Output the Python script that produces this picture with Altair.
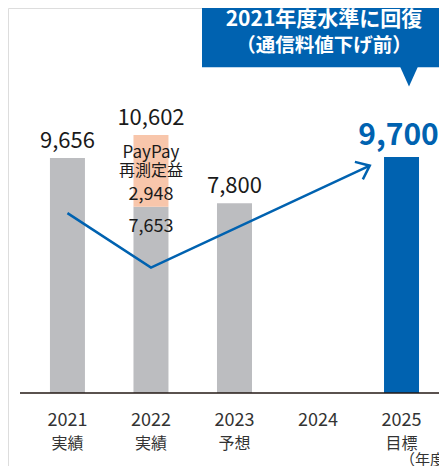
import math
import altair as alt
import pandas as pd

# ---------------- data ----------------
bar_years = [2021, 2022, 2022, 2023, 2025]
bar_start = [0, 0, 7653, 0, 0]
bar_end = [9656, 7653, 10602, 7800, 9700]
bar_kind = ["実績", "実績", "再測定益", "予想", "目標"]

label_years = [2021, 2022, 2023]
label_values = [9656, 10602, 7800]
label_texts = ["9,656", "10,602", "7,800"]

target_year = [2025]
target_value = [9700]
target_text = ["9,700"]

inner_texts = ["PayPay", "再測定益", "2,948", "7,653"]

tick_years = [2021, 2022, 2023, 2024, 2025]
tick_top = ["2021", "2022", "2023", "2024", "2025"]
tick_sub = ["実績", "実績", "予想", "", "目標"]

trend_x = [2021, 2022, 2024.62]
trend_y = [7390, 5150, 9340]

callout_lines = ["2021年度水準に回復", "（通信料値下げ前）"]

# ---------------- layout ----------------
W, H = 431, 458
PX_PER_YEAR = 85.5
K = 0.02434  # px per unit
x0 = 2021 - 55.75 / PX_PER_YEAR
x1 = x0 + W / PX_PER_YEAR
y_top = 385 / K
y_bot = -(H - 385) / K

FONT = "Noto Sans CJK JP"
GRAY = "#bcbdc0"
ORANGE = "#f8c6ab"
BLUE = "#0062b0"
TXT = "#1a1a1a"

xs = alt.Scale(domain=[x0, x1], nice=False, zero=False)
ys = alt.Scale(domain=[y_bot, y_top], nice=False, zero=False)

bars_df = pd.DataFrame({"x": bar_years, "s": bar_start, "e": bar_end, "kind": bar_kind})
bars = alt.Chart(bars_df).mark_bar(size=35).encode(
    x=alt.X("x:Q", scale=xs, axis=None),
    y=alt.Y("s:Q", scale=ys, axis=None),
    y2="e:Q",
    color=alt.Color("kind:N", legend=None,
                    scale=alt.Scale(domain=["実績", "再測定益", "予想", "目標"],
                                    range=[GRAY, ORANGE, GRAY, BLUE])),
)

axis_line = alt.Chart(pd.DataFrame({"y": [0]})).mark_rule(color="#231815", strokeWidth=1.3).encode(
    y=alt.Y("y:Q", scale=ys, axis=None), x=alt.value(12), x2=alt.value(W + 5)
)

lab_df = pd.DataFrame({"x": label_years, "y": label_values, "t": label_texts})
labels = alt.Chart(lab_df).mark_text(font=FONT, fontSize=22, baseline="alphabetic", dy=-10, color=TXT).encode(
    x=alt.X("x:Q", scale=xs), y=alt.Y("y:Q", scale=ys), text="t:N"
)

tgt_df = pd.DataFrame({"x": target_year, "y": target_value, "t": target_text})
tgt_label = alt.Chart(tgt_df).mark_text(font=FONT, fontSize=30, fontWeight="bold", baseline="alphabetic",
                                        dy=-12, dx=-3, color=BLUE).encode(
    x=alt.X("x:Q", scale=xs), y=alt.Y("y:Q", scale=ys), text="t:N"
)

inner_y = [149.7, 167.5, 192, 224]
inner_size = [17, 16, 18, 18]
inner_layers = []
for t, yy, fs in zip(inner_texts, inner_y, inner_size):
    inner_layers.append(
        alt.Chart(pd.DataFrame({"x": [2022], "t": [t]})).mark_text(
            font=FONT, fontSize=fs, baseline="alphabetic", color=TXT
        ).encode(x=alt.X("x:Q", scale=xs), y=alt.value(yy), text="t:N")
    )

tick_df = pd.DataFrame({"x": tick_years, "a": tick_top, "b": tick_sub})
tick_a = alt.Chart(tick_df).mark_text(font=FONT, fontSize=18, baseline="alphabetic", color="#333333").encode(
    x=alt.X("x:Q", scale=xs), y=alt.value(417.7), text="a:N"
)
tick_b = alt.Chart(tick_df).mark_text(font=FONT, fontSize=16, baseline="alphabetic", color="#333333").encode(
    x=alt.X("x:Q", scale=xs), y=alt.value(441), text="b:N"
)
unit = alt.Chart(pd.DataFrame({"t": ["（年度）"]})).mark_text(
    font=FONT, fontSize=15, baseline="alphabetic", align="left", color="#333333"
).encode(x=alt.value(392), y=alt.value(457), text="t:N")

trend_df = pd.DataFrame({"x": trend_x, "y": trend_y, "o": list(range(len(trend_x)))})
trend = alt.Chart(trend_df).mark_line(color=BLUE, strokeWidth=2.5).encode(
    x=alt.X("x:Q", scale=xs), y=alt.Y("y:Q", scale=ys), order="o:Q"
)
dxp = (trend_x[-1] - trend_x[-2]) * PX_PER_YEAR
dyp = (trend_y[-1] - trend_y[-2]) * K
ang = (math.degrees(math.atan2(-dyp, dxp)) + 360) % 360
head = alt.Chart(trend_df.tail(1)).mark_point(
    shape="M-1,-0.8L0,0L-1,0.8", filled=False, size=576, angle=ang, strokeWidth=2.5,
    color=BLUE, opacity=1
).encode(x=alt.X("x:Q", scale=xs), y=alt.Y("y:Q", scale=ys))

box = alt.Chart(pd.DataFrame({"a": [0]})).mark_rect(color=BLUE).encode(
    x=alt.value(194), x2=alt.value(W + 5), y=alt.value(0), y2=alt.value(59.3)
)
pointer = alt.Chart(pd.DataFrame({"a": [0]})).mark_point(
    shape="M-0.9,-1L0.9,-1L0,1Z", filled=True, size=400, color=BLUE, opacity=1, strokeWidth=0
).encode(x=alt.value(401), y=alt.value(68.5))
c1 = alt.Chart(pd.DataFrame({"t": [callout_lines[0]]})).mark_text(
    font=FONT, fontSize=21, fontWeight="bold", baseline="alphabetic", color="white"
).encode(x=alt.value(316), y=alt.value(18), text="t:N")
c2 = alt.Chart(pd.DataFrame({"t": [callout_lines[1]]})).mark_text(
    font=FONT, fontSize=19.5, fontWeight="bold", baseline="alphabetic", color="white"
).encode(x=alt.value(316), y=alt.value(44), text="t:N")

chart = alt.layer(
    bars, axis_line, trend, head, labels, tgt_label, *inner_layers, tick_a, tick_b, unit,
    box, pointer, c1, c2
).properties(
    width=W, height=H, padding=0, autosize=alt.AutoSizeParams(type="none")
).configure_view(stroke=None).configure(background="white")

chart.save("out.html", embed_options={"renderer": "svg", "actions": False})
